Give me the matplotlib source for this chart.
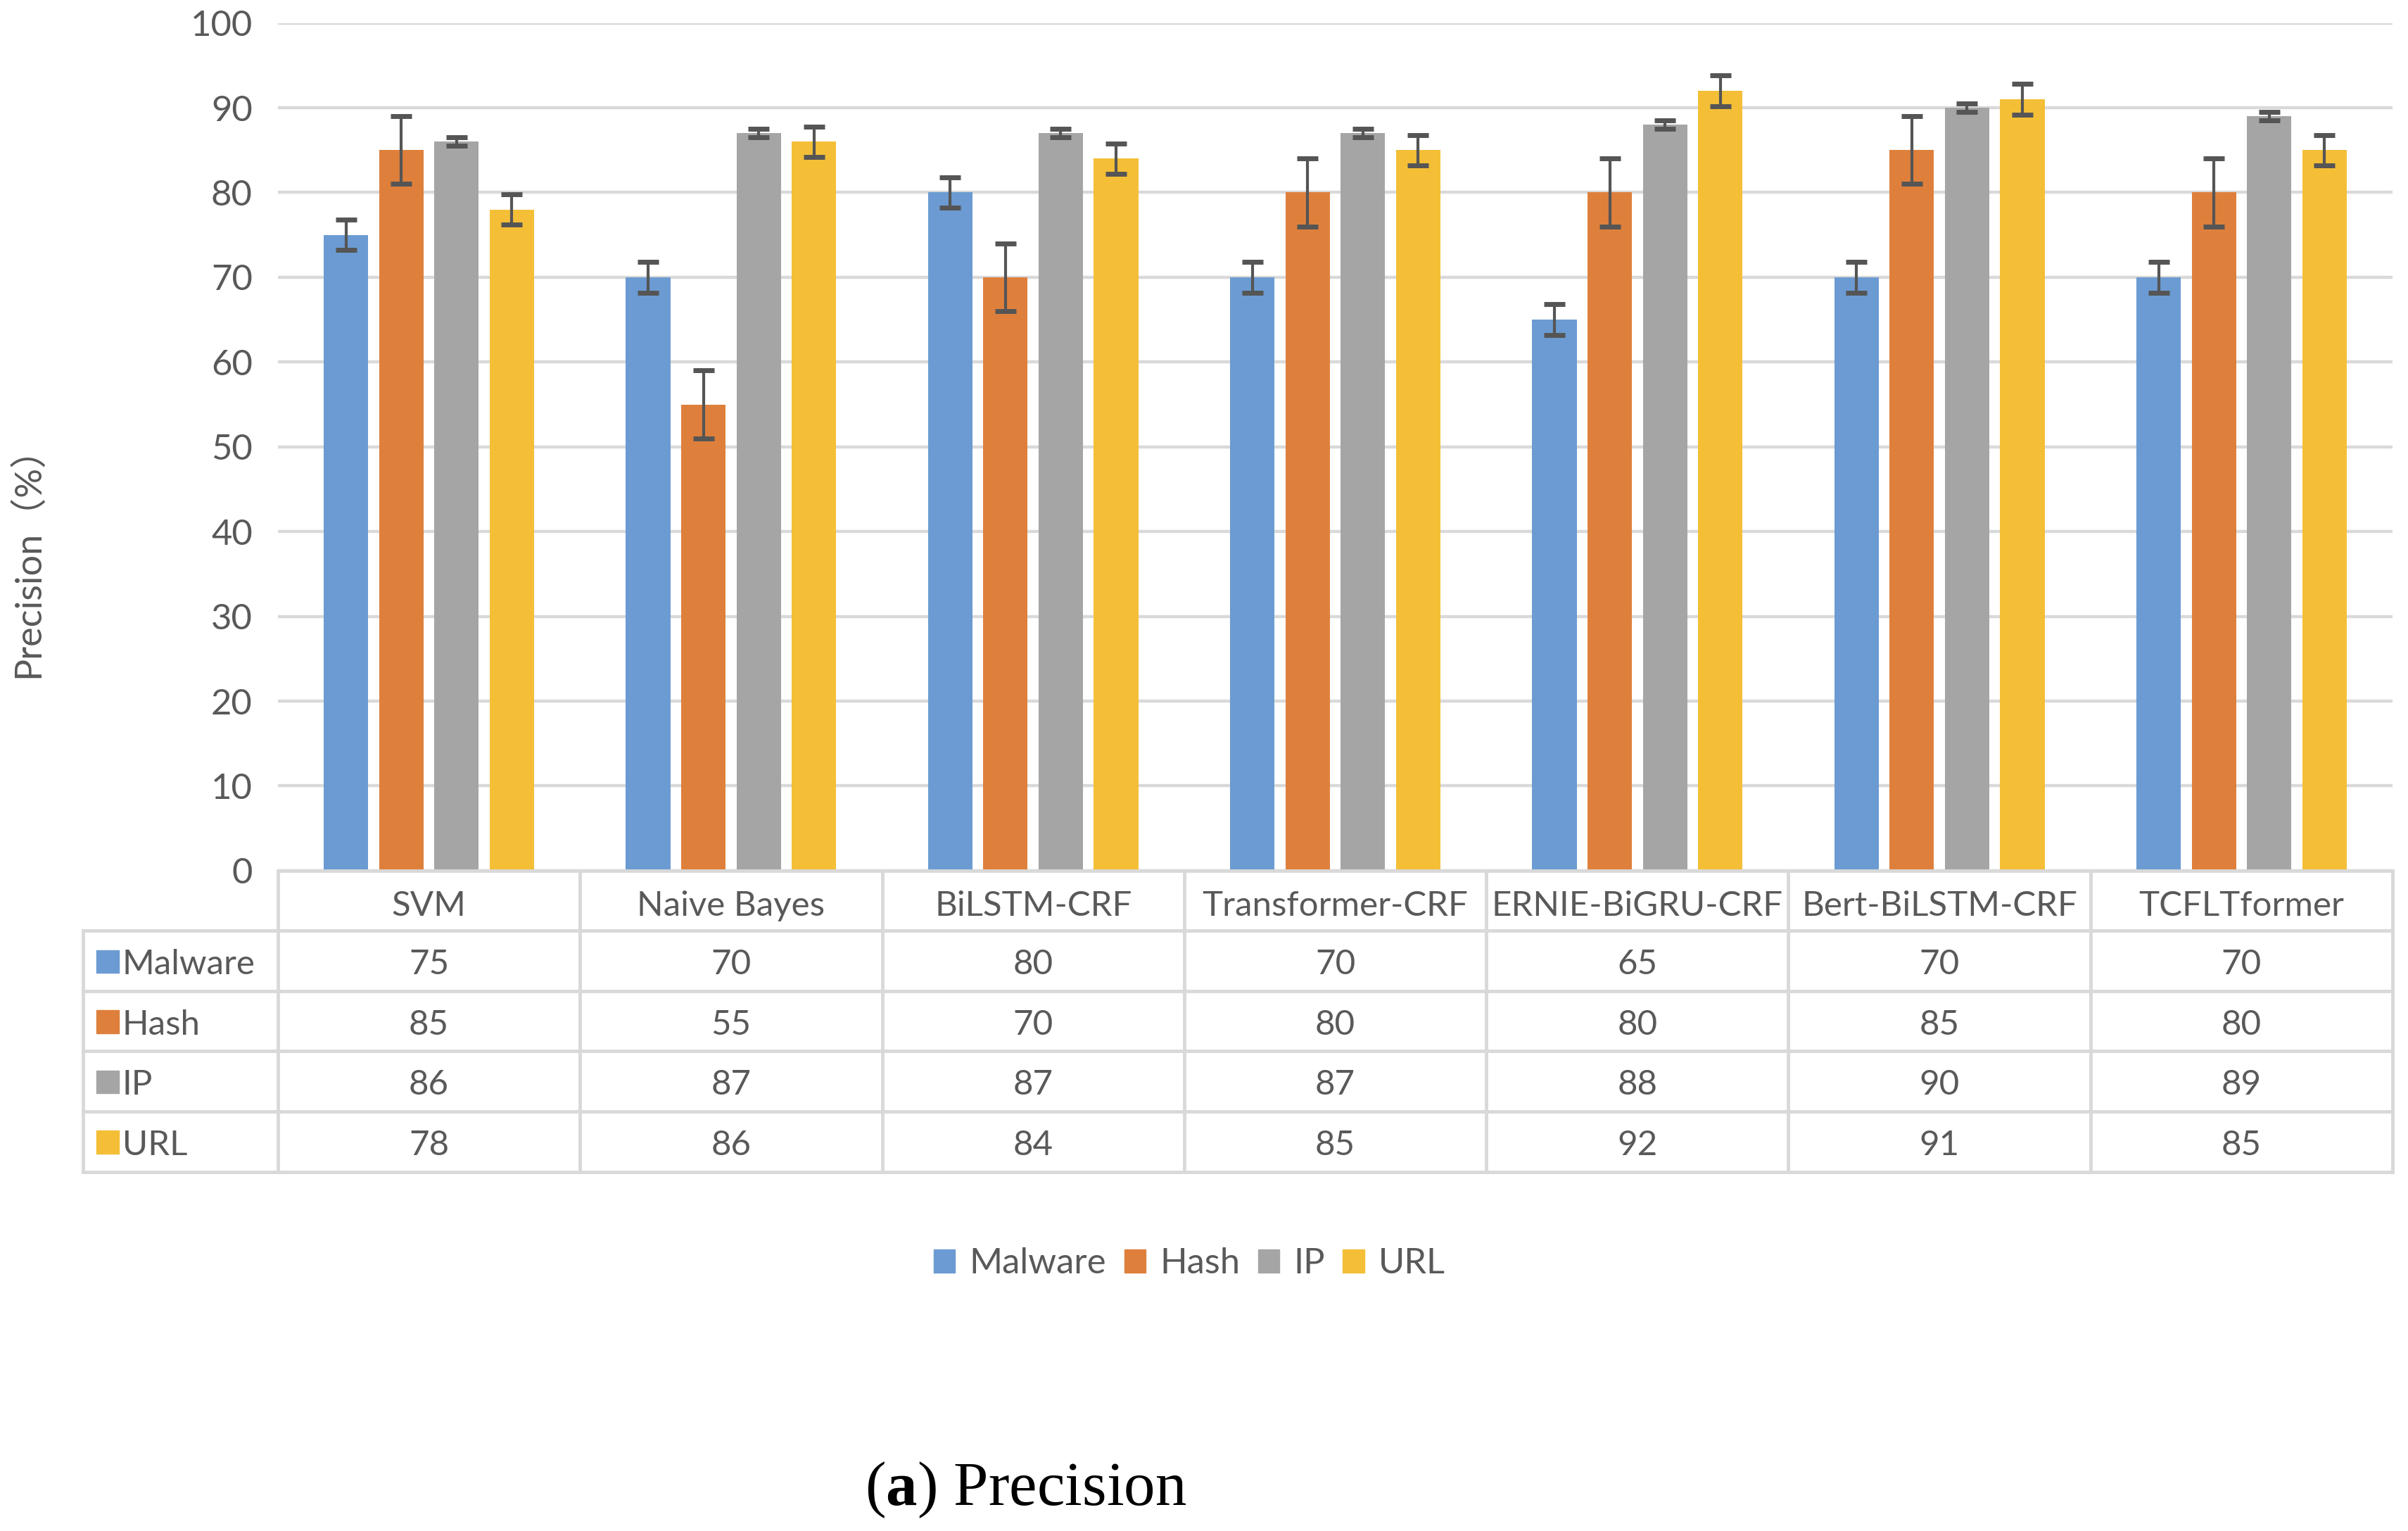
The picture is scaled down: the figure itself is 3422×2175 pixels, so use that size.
import matplotlib
matplotlib.use("Agg")
import matplotlib.pyplot as plt
from matplotlib.patches import Rectangle
import numpy as np

plt.rcParams['font.family'] = ['Lato', 'Noto Sans CJK SC', 'DejaVu Sans']
plt.rcParams['mathtext.fontset'] = 'custom'
plt.rcParams['mathtext.bf'] = 'Liberation Serif:bold'
plt.rcParams['mathtext.rm'] = 'Liberation Serif'

models = ["SVM", "Naive Bayes", "BiLSTM-CRF", "Transformer-CRF",
          "ERNIE-BiGRU-CRF", "Bert-BiLSTM-CRF", "TCFLTformer"]
series = ["Malware", "Hash", "IP", "URL"]
malware = [75, 70, 80, 70, 65, 70, 70]
hash_ = [85, 55, 70, 80, 80, 85, 80]
ip = [86, 87, 87, 87, 88, 90, 89]
url = [78, 86, 84, 85, 92, 91, 85]
errors = [1.8, 4.0, 0.5, 1.8]   # one error size per series
colors = ["#6B9BD2", "#DE803C", "#A5A5A5", "#F4BF37"]

values = [malware, hash_, ip, url]
txt = "#595959"
grid_c = "#D9D9D9"
fs = 35.5

fig = plt.figure(figsize=(34.22, 21.75), dpi=100)

# bar chart
ax = fig.add_axes([0.1154, 0.4313, 0.9936 - 0.1154, 0.985 - 0.4313])
x = np.arange(len(models)) + 0.5
bw = 0.147
step = 0.183
for i, (vals, c) in enumerate(zip(values, colors)):
    xs = x + (i - 1.5) * step
    ax.bar(xs, vals, width=bw, color=c, zorder=3)
    ax.errorbar(xs, vals, yerr=errors[i], fmt='none', ecolor="#555555",
                elinewidth=3, capsize=11, capthick=5, zorder=4)
ax.set_xlim(0, len(models))
ax.set_ylim(0, 100)
ax.set_yticks(range(0, 101, 10))
ax.set_xticks([])
ax.tick_params(axis='y', length=0, pad=26, labelsize=fs + 1, labelcolor=txt)
ax.grid(axis='y', color=grid_c, linewidth=3.2, zorder=0)
for s in ax.spines.values():
    s.set_visible(False)

# data table below the chart
tab = fig.add_axes([0.0344, 0.2347, 0.9936 - 0.0344, 0.4313 - 0.2347])
lw_col = 0.6457
tab.set_xlim(-lw_col, len(models))
tab.set_ylim(5, 0)
tab.axis('off')
lw = 3.5
# horizontal lines
tab.plot([0, len(models)], [0, 0], color=grid_c, lw=lw, clip_on=False)
for r in range(1, 6):
    tab.plot([-lw_col, len(models)], [r, r], color=grid_c, lw=lw, clip_on=False)
# vertical lines
for cidx in range(0, len(models) + 1):
    tab.plot([cidx, cidx], [0, 5], color=grid_c, lw=lw, clip_on=False)
tab.plot([-lw_col, -lw_col], [1, 5], color=grid_c, lw=lw, clip_on=False)

for j, m in enumerate(models):
    tab.text(j + 0.5, 0.58, m, ha='center', va='center', fontsize=fs, color=txt)
for i, (name, vals, c) in enumerate(zip(series, values, colors)):
    yy = i + 1.5
    tab.add_patch(Rectangle((-lw_col + 0.045, yy - 0.18), 0.075, 0.38,
                            color=c, clip_on=False))
    tab.text(-lw_col + 0.13, yy + 0.06, name, ha='left', va='center',
             fontsize=fs, color=txt)
    for j, v in enumerate(vals):
        tab.text(j + 0.5, yy + 0.06, str(v), ha='center', va='center',
                 fontsize=fs, color=txt)

# y label
fig.text(0.0115, 0.639, "Precision（%）", rotation=90, ha='center', va='center',
         fontsize=fs + 2, color=txt)

# legend
handles = [Rectangle((0, 0), 1, 1, color=c) for c in colors]
fig.legend(handles, series, loc='center', bbox_to_anchor=(0.494, 0.1745),
           ncol=4, frameon=False, fontsize=fs + 1, labelcolor=txt,
           handlelength=0.6, handleheight=0.6, handletextpad=0.4,
           columnspacing=0.5)

# caption
fig.text(0.426, 0.027, r"($\mathbf{a}$) Precision", ha='center', va='center',
         fontsize=64, family='Liberation Serif', color='black')

fig.savefig("out.png", dpi=100)
